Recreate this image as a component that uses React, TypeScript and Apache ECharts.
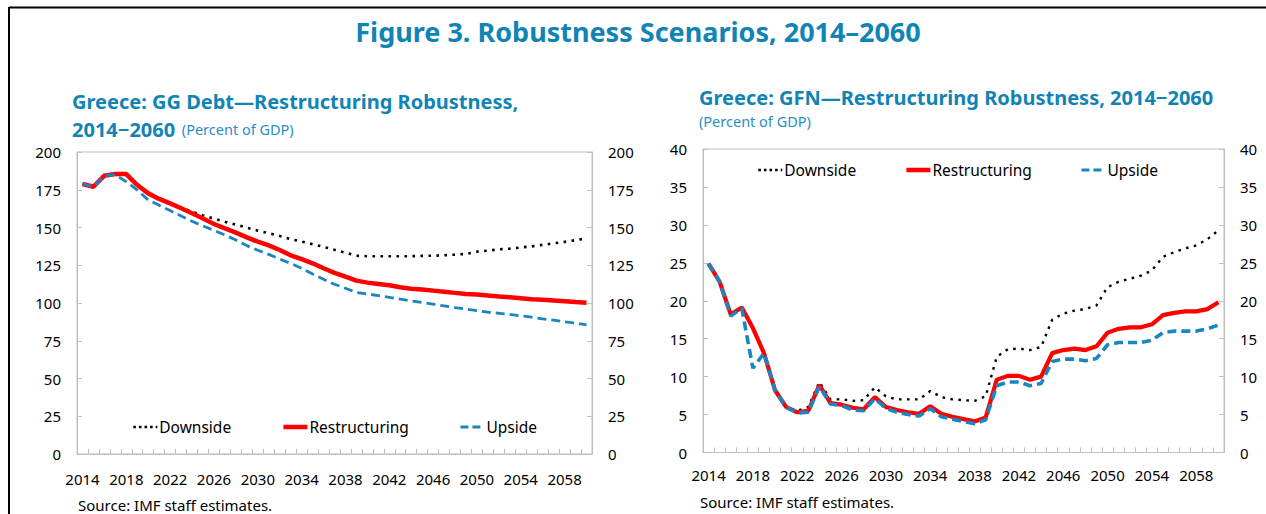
import React, { useEffect, useRef } from "react";
import * as echarts from "echarts";

const YEARS: string[] = [];
for (let y = 2014; y <= 2060; y++) YEARS.push(String(y));

const SERIES_NAMES = ["Downside", "Restructuring", "Upside"];

// Greece: GG Debt (percent of GDP)
const debtDownside = [
  178.8, 177, 184.3, 185.4, 185.4, 178.1, 172.6, 168.9, 166, 163, 160.5, 158, 155.8, 153.8, 151.9, 149.9,
  147.9, 146.2, 144.4, 142.2, 140.7, 138.9, 137.2, 135.2, 133.3, 131.3, 131, 131, 131, 131, 131, 131.2,
  131.3, 131.6, 132, 132.5, 134, 134.7, 135.5, 136, 136.8, 137.5, 138.5, 139.5, 140.5, 141.6, 142.8,
];
const debtRestructuring = [
  178.8, 177, 184.3, 185.4, 185.4, 178.1, 172.6, 168.9, 166, 162.7, 159.4, 155.9, 152.3, 149.4, 146.6, 143.5,
  140.6, 138.2, 135.1, 131.6, 129, 126.3, 123, 120, 117.4, 114.8, 113.5, 112.6, 111.7, 110.4, 109.5, 108.9,
  108.2, 107.5, 106.7, 106, 105.6, 104.9, 104.3, 103.8, 103.2, 102.5, 102.1, 101.7, 101.2, 100.6, 100.2,
];
const debtUpside = [
  178.8, 177, 184, 185, 180.3, 174.8, 168.2, 164.7, 161.2, 157.6, 154.1, 151, 148.1, 145, 141.7, 138,
  134.9, 132.2, 129.1, 126.2, 123, 119.2, 115.7, 112.4, 109.8, 106.9, 106, 104.9, 103.8, 102.5, 101.4, 100.3,
  99.2, 98.1, 97, 95.9, 95, 93.9, 93.2, 92.4, 91.5, 90.6, 89.5, 88.6, 87.5, 86.7, 85.5,
];

// Greece: GFN (percent of GDP)
const gfnDownside = [
  24.9, 22.5, 18.2, 19.1, 16.4, 13.1, 8.2, 6.0, 5.5, 6.0, 9.3, 7.0, 7.0, 6.8, 6.9, 8.6,
  7.4, 7.0, 7.0, 7.0, 8.1, 7.3, 7.0, 6.9, 6.8, 7.4, 12.6, 13.6, 13.7, 13.5, 13.9, 17.5,
  18.3, 18.7, 18.9, 19.4, 21.8, 22.5, 22.9, 23.3, 24.0, 25.8, 26.4, 26.9, 27.3, 28.1, 29.3,
];
const gfnRestructuring = [
  24.9, 22.5, 18.2, 19.1, 16.4, 13.1, 8.2, 6.0, 5.3, 5.5, 8.9, 6.5, 6.3, 5.9, 5.7, 7.3,
  6.0, 5.6, 5.3, 5.1, 6.1, 5.1, 4.7, 4.4, 4.1, 4.6, 9.6, 10.1, 10.1, 9.6, 10.0, 13.1,
  13.5, 13.7, 13.5, 14.0, 15.8, 16.3, 16.5, 16.5, 16.9, 18.1, 18.4, 18.6, 18.6, 18.9, 19.8,
];
const gfnUpside = [
  24.9, 22.5, 18, 19, 11.1, 13.1, 8.2, 6.0, 5.2, 5.3, 8.7, 6.4, 6.2, 5.6, 5.5, 7.1,
  5.8, 5.3, 5.0, 4.8, 5.8, 4.7, 4.4, 4.1, 3.8, 4.3, 8.8, 9.3, 9.3, 8.8, 9.1, 12.0,
  12.3, 12.3, 12.1, 12.4, 14.2, 14.5, 14.5, 14.5, 14.8, 15.8, 16.0, 16.0, 16.0, 16.3, 16.8,
];

const MAIN_TITLE = "Figure 3. Robustness Scenarios, 2014–2060";
const LEFT_TITLE_1 = "Greece: GG Debt—Restructuring Robustness,";
const LEFT_TITLE_2 = "2014−2060";
const RIGHT_TITLE = "Greece: GFN—Restructuring Robustness, 2014−2060";
const UNIT = "(Percent of GDP)";
const SOURCE = "Source: IMF staff estimates.";

const FONT = '"Noto Sans", "Open Sans", sans-serif';
const TITLE_BLUE = "#0f84b5";
const UNIT_BLUE = "#2a8fc6";
const AXIS_GRAY = "#bfbfbf";
const RED = "#ff0000";
const BLUE = "#1a86c1";

function xAxisFor(gridIndex: number, margin: number) {
  return {
    type: "category",
    gridIndex,
    data: YEARS,
    boundaryGap: true,
    axisLine: { show: true, lineStyle: { color: AXIS_GRAY, width: 1 } },
    axisTick: { show: true, inside: true, length: 5, interval: 0, lineStyle: { color: AXIS_GRAY } },
    axisLabel: { interval: 3, color: "#000", fontSize: 15, fontFamily: FONT, margin },
    splitLine: { show: false },
  };
}

function yAxisFor(gridIndex: number, position: "left" | "right", max: number, interval: number) {
  return {
    type: "value",
    gridIndex,
    position,
    min: 0,
    max,
    interval,
    axisLine: { show: true, lineStyle: { color: AXIS_GRAY, width: 1 } },
    axisTick: { show: true, inside: true, length: 5, lineStyle: { color: AXIS_GRAY } },
    axisLabel: { color: "#000", fontSize: 15, fontFamily: FONT, margin: 16 },
    splitLine: { show: false },
  };
}

function seriesFor(gridIndex: number, down: number[], restr: number[], up: number[], w: { d: number; r: number; u: number }) {
  return [
    {
      name: SERIES_NAMES[0],
      type: "line",
      xAxisIndex: gridIndex,
      yAxisIndex: gridIndex * 2,
      data: down,
      symbol: "none",
      lineStyle: { color: "#000", width: w.d, type: [2.6, 5.4] },
      itemStyle: { color: "#000" },
      z: 2,
    },
    {
      name: SERIES_NAMES[1],
      type: "line",
      xAxisIndex: gridIndex,
      yAxisIndex: gridIndex * 2,
      data: restr,
      symbol: "none",
      lineStyle: { color: RED, width: w.r, type: "solid" },
      itemStyle: { color: RED },
      z: 3,
    },
    {
      name: SERIES_NAMES[2],
      type: "line",
      xAxisIndex: gridIndex,
      yAxisIndex: gridIndex * 2,
      data: up,
      symbol: "none",
      lineStyle: { color: BLUE, width: w.u, type: [9, 5] },
      itemStyle: { color: BLUE },
      z: 4,
    },
  ];
}

const HIDDEN_SYMBOL = { color: "rgba(0,0,0,0)", borderWidth: 0, opacity: 0 };

function legendFor(left: number, top: number, gap: number) {
  return {
    left,
    top,
    orient: "horizontal",
    itemWidth: 24,
    itemHeight: 12,
    itemGap: gap,
    padding: 0,
    selectedMode: false,
    textStyle: { color: "#000", fontSize: 15.5, fontFamily: FONT, padding: [0, 0, 0, -3] },
    data: [
      { name: SERIES_NAMES[0], itemStyle: HIDDEN_SYMBOL, lineStyle: { width: 2.6, type: [2.6, 3] } },
      { name: SERIES_NAMES[1], itemStyle: HIDDEN_SYMBOL, lineStyle: { width: 4.5 } },
      { name: SERIES_NAMES[2], itemStyle: HIDDEN_SYMBOL, lineStyle: { width: 3, type: [8, 4] } },
    ],
  };
}

export default function App() {
  const ref = useRef<HTMLDivElement>(null);

  useEffect(() => {
    document.body.style.margin = "0";
    const chart = echarts.init(ref.current!, undefined, { renderer: "svg" });
    chart.setOption({
      animation: false,
      backgroundColor: "#ffffff",
      textStyle: { fontFamily: FONT },
      grid: [
        { left: 77, top: 152, width: 515, height: 302, show: true, borderColor: AXIS_GRAY, borderWidth: 1, containLabel: false },
        { left: 703, top: 149, width: 521, height: 303.5, show: true, borderColor: AXIS_GRAY, borderWidth: 1, containLabel: false },
      ],
      xAxis: [xAxisFor(0, 17), xAxisFor(1, 15)],
      yAxis: [
        yAxisFor(0, "left", 200, 25),
        yAxisFor(0, "right", 200, 25),
        yAxisFor(1, "left", 40, 5),
        yAxisFor(1, "right", 40, 5),
      ],
      legend: [legendFor(132, 419, 50), legendFor(757, 162, 48)],
      series: [
        ...seriesFor(0, debtDownside, debtRestructuring, debtUpside, { d: 2.6, r: 4.5, u: 2.8 }),
        ...seriesFor(1, gfnDownside, gfnRestructuring, gfnUpside, { d: 2.4, r: 4.2, u: 3.6 }),
      ],
      graphic: [
        { type: "line", shape: { x1: 9, y1: 7.5, x2: 1266, y2: 7.5 }, style: { stroke: "#000", lineWidth: 2 } },
        { type: "line", shape: { x1: 9, y1: 7, x2: 9, y2: 514 }, style: { stroke: "#000", lineWidth: 2 } },
        {
          type: "text",
          x: 638,
          y: 31,
          style: { text: MAIN_TITLE, fill: TITLE_BLUE, font: `bold 27px ${FONT}`, textAlign: "center", textVerticalAlign: "middle" },
        },
        {
          type: "text",
          x: 72,
          y: 101,
          style: { text: LEFT_TITLE_1, fill: TITLE_BLUE, font: `bold 20px ${FONT}`, textAlign: "left", textVerticalAlign: "middle" },
        },
        {
          type: "text",
          x: 72,
          y: 129,
          style: {
            text: `{b|${LEFT_TITLE_2}}  {n|${UNIT}}`,
            textAlign: "left",
            textVerticalAlign: "middle",
            rich: {
              b: { fill: TITLE_BLUE, font: `bold 20px ${FONT}` },
              n: { fill: UNIT_BLUE, font: `14.5px ${FONT}` },
            },
          },
        },
        {
          type: "text",
          x: 699,
          y: 97,
          style: { text: RIGHT_TITLE, fill: TITLE_BLUE, font: `bold 20px ${FONT}`, textAlign: "left", textVerticalAlign: "middle" },
        },
        {
          type: "text",
          x: 699,
          y: 121,
          style: { text: UNIT, fill: UNIT_BLUE, font: `14.5px ${FONT}`, textAlign: "left", textVerticalAlign: "middle" },
        },
        {
          type: "text",
          x: 78,
          y: 505,
          style: { text: SOURCE, fill: "#000", font: `15px ${FONT}`, textAlign: "left", textVerticalAlign: "middle" },
        },
        {
          type: "text",
          x: 700,
          y: 502,
          style: { text: SOURCE, fill: "#000", font: `15px ${FONT}`, textAlign: "left", textVerticalAlign: "middle" },
        },
      ],
    });
    return () => chart.dispose();
  }, []);

  return (
    <div
      ref={ref}
      style={{ position: "absolute", left: 0, top: 0, width: 1266, height: 514, background: "#fff" }}
    />
  );
}
